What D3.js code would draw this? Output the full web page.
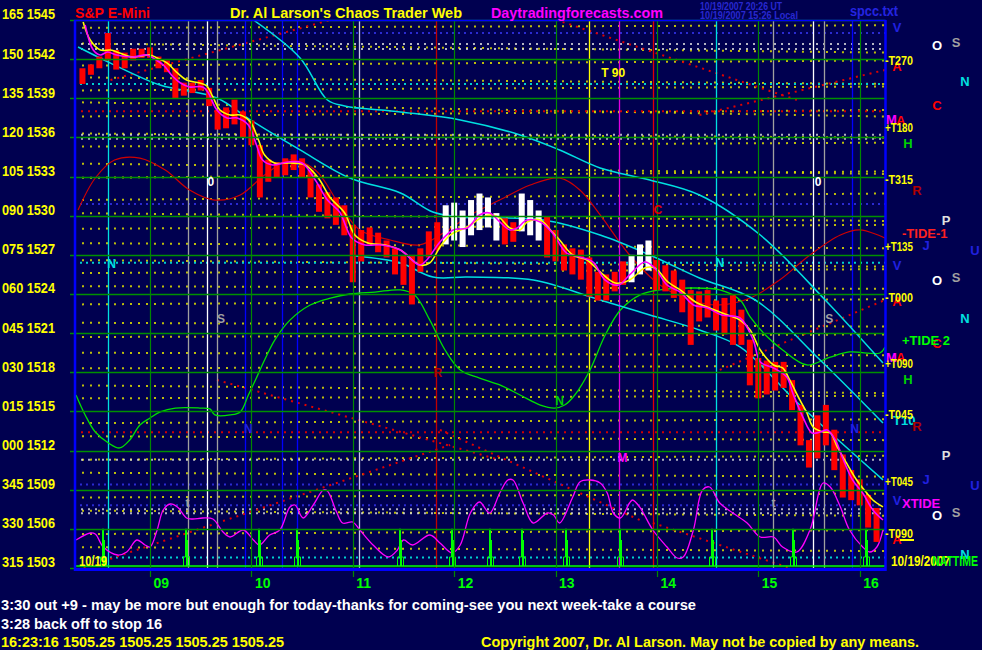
<!DOCTYPE html>
<html><head><meta charset="utf-8">
<script src="https://cdn.jsdelivr.net/npm/d3@7"></script>
<style>body{margin:0;background:#000050;}svg{display:block;}text{font-family:"Liberation Sans",Arial,sans-serif;font-weight:bold;}</style>
</head><body><svg id="c" width="982" height="650"></svg>
<script>
// ---------------- DATA ----------------
const priceTicks = [1503,1506,1509,1512,1515,1518,1521,1524,1527,1530,1533,1536,1539,1542,1545];
const degreeLabels = ["315","330","345","000","015","030","045","060","075","090","105","120","135","150","165"];
const hourTicks = [9,10,11,12,13,14,15,16];
const hourLabels = ["09","10","11","12","13","14","15","16"];

// 5-minute bars starting 8:20
const barStartHour = 8 + 20/60;
const barStepHour = 5/60;
const barHigh = [1541.3,1541.6,1542.2,1544.0,1542.7,1542.5,1542.8,1542.8,1542.9,1542.2,1541.9,1541.3,1540.2,1540.2,1540.4,1539.8,1538.1,1538.3,1538.9,1538.0,
 1537.3,1535.4,1534.3,1534.1,1534.4,1534.7,1534.4,1533.5,1532.4,1531.8,1531.4,1530.8,1529.3,1528.9,1529.1,1528.7,1528.1,1527.5,1527.0,1527.0,
 1527.5,1528.8,1529.5,1530.8,1531.0,1530.4,1531.2,1531.7,1531.4,1530.2,1529.8,1529.5,1531.7,1531.2,1530.4,1529.9,1528.9,1527.8,1527.5,1527.4,
 1526.8,1525.7,1525.5,1525.7,1526.5,1527.0,1527.8,1528.1,1526.6,1526.2,1525.8,1525.1,1524.3,1524.2,1524.3,1523.5,1523.7,1523.9,1522.8,1520.5,
 1519.1,1518.9,1518.8,1518.8,1517.4,1515.5,1512.8,1514.7,1515.5,1513.6,1511.7,1510.5,1509.8,1508.6,1507.6];
const barLow = [1540.1,1540.8,1541.3,1541.9,1541.2,1541.3,1541.9,1542.1,1542.1,1541.3,1541.0,1539.0,1539.2,1539.4,1539.6,1538.4,1536.6,1536.7,1537.0,1536.0,
 1535.4,1531.4,1532.6,1532.9,1533.1,1533.5,1532.9,1531.4,1530.3,1529.8,1529.3,1528.5,1524.9,1526.5,1527.8,1527.2,1526.8,1525.5,1524.7,1523.2,
 1525.7,1526.8,1527.4,1527.8,1528.1,1527.6,1528.5,1528.9,1529.1,1528.1,1527.8,1528.0,1528.8,1528.5,1528.1,1526.8,1526.5,1525.8,1525.5,1525.1,
 1523.8,1523.5,1523.5,1524.2,1524.7,1524.9,1525.5,1525.8,1524.3,1524.2,1523.7,1522.6,1520.1,1521.9,1522.2,1521.2,1520.9,1520.1,1520.1,1517.0,
 1516.0,1516.3,1516.6,1516.8,1515.1,1512.4,1510.7,1511.4,1512.4,1510.5,1508.4,1508.2,1507.8,1506.1,1505.0];
const whiteBarIdx = [43,44,45,46,47,48,49,52,53,54,65,66,67];

const yellowMA = [[8.34,1544.85],[8.41,1543.47],[8.51,1542.70],[8.61,1542.70],[8.70,1542.47],[8.83,1542.16],[9.00,1542.32],[9.07,1542.09],[9.17,1541.70],[9.27,1540.94],[9.36,1540.40],[9.49,1540.17],[9.56,1539.94],[9.62,1539.10],[9.69,1538.10],[9.79,1537.72],[9.89,1537.72],[9.99,1537.18],[10.07,1535.80],[10.13,1534.65],[10.23,1534.04],[10.38,1534.04],[10.53,1533.89],[10.66,1532.89],[10.78,1531.36],[10.92,1530.21],[11.02,1528.52],[11.15,1527.91],[11.32,1527.76],[11.47,1527.37],[11.66,1526.22],[11.76,1526.38],[11.86,1527.60],[11.96,1528.52],[12.13,1529.14],[12.28,1529.90],[12.38,1530.06],[12.45,1529.83],[12.55,1529.06],[12.65,1528.91],[12.72,1529.52],[12.85,1529.67],[12.95,1528.91],[13.04,1528.14],[13.17,1526.99],[13.31,1526.61],[13.44,1525.69],[13.59,1524.84],[13.73,1525.07],[13.88,1525.99],[13.98,1525.99],[14.11,1524.92],[14.23,1524.31],[14.38,1523.39],[14.52,1522.93],[14.67,1522.47],[14.82,1522.00],[14.92,1521.24],[15.02,1519.71],[15.15,1518.56],[15.24,1518.33],[15.31,1517.41],[15.41,1515.88],[15.48,1514.88],[15.54,1513.81],[15.64,1513.42],[15.71,1513.35],[15.78,1512.27],[15.87,1511.05],[15.97,1509.75],[16.07,1508.75],[16.13,1508.21],[16.23,1507.68]];
const magentaMA = [[8.36,1544.62],[8.44,1542.70],[8.51,1542.32],[8.58,1542.55],[8.67,1542.32],[8.83,1542.16],[8.97,1542.32],[9.03,1542.09],[9.13,1541.55],[9.23,1540.63],[9.30,1540.17],[9.39,1539.87],[9.52,1539.87],[9.57,1539.48],[9.66,1538.10],[9.76,1537.49],[9.86,1537.49],[9.97,1536.95],[10.05,1535.42],[10.11,1534.27],[10.21,1533.89],[10.36,1534.12],[10.50,1534.04],[10.63,1532.74],[10.75,1531.20],[10.87,1530.28],[10.99,1528.29],[11.12,1527.76],[11.29,1527.76],[11.47,1527.37],[11.66,1526.22],[11.73,1526.61],[11.86,1527.99],[11.99,1528.91],[12.13,1529.06],[12.25,1530.06],[12.35,1530.21],[12.45,1529.52],[12.55,1528.91],[12.62,1529.06],[12.72,1529.67],[12.85,1529.52],[12.97,1528.68],[13.11,1527.14],[13.24,1526.84],[13.37,1526.45],[13.49,1525.07],[13.62,1524.69],[13.73,1525.46],[13.88,1526.45],[13.98,1525.99],[14.10,1524.69],[14.23,1524.15],[14.36,1523.16],[14.50,1522.93],[14.64,1522.39],[14.82,1522.16],[14.95,1520.47],[15.02,1518.79],[15.15,1518.33],[15.28,1517.64],[15.34,1516.41],[15.44,1514.57],[15.53,1513.35],[15.61,1513.42],[15.68,1513.58],[15.76,1512.81],[15.84,1511.28],[15.93,1509.75],[16.03,1508.75],[16.13,1507.45],[16.23,1506.68]];

const cyanUpper = [[10.02,1545.0],[10.48,1542.09],[10.75,1538.87],[10.92,1538.41],[11.47,1537.95],[12.06,1537.34],[12.65,1536.19],[13.04,1535.04],[13.44,1533.66],[13.93,1532.74],[14.42,1531.59],[15.02,1528.52],[15.66,1523.54],[16.23,1518.71]];
const cyanMid = [[8.29,1542.93],[8.61,1541.70],[9.10,1540.02],[9.66,1539.02],[9.99,1537.34],[10.48,1535.04],[10.97,1532.89],[11.47,1531.74],[11.79,1530.28],[12.06,1529.90],[12.88,1529.67],[13.44,1528.52],[13.93,1526.99],[14.42,1525.23],[14.97,1523.54],[15.61,1518.94],[16.23,1514.11]];
const cyanLower = [[11.02,1526.91],[11.47,1526.38],[11.79,1525.30],[12.13,1525.30],[12.78,1525.07],[13.44,1523.54],[13.93,1522.39],[14.42,1521.24],[14.82,1519.94],[15.41,1515.49],[16.23,1509.75]];
const redCurve = [[8.29,1530.44],[8.46,1532.89],[8.65,1534.27],[8.90,1534.42],[9.15,1533.50],[9.39,1531.97],[9.64,1531.20],[9.89,1531.59],[10.13,1533.12],[10.38,1534.27],[10.63,1533.50],[10.87,1530.82],[11.07,1528.91],[11.37,1528.14],[11.66,1527.76],[11.91,1528.75],[12.16,1530.06],[12.45,1531.20],[12.75,1532.35],[13.04,1532.89],[13.24,1531.97],[13.44,1530.06],[13.73,1526.99],[14.03,1524.69],[14.33,1523.54],[14.62,1523.16],[14.92,1523.69],[15.21,1525.07],[15.51,1526.99],[15.81,1528.52],[16.00,1528.91],[16.25,1528.29]];
const greenCurve = [[8.27,1516.26],[8.36,1514.73],[8.46,1513.42],[8.59,1512.58],[8.70,1512.20],[8.80,1512.81],[8.90,1513.96],[9.00,1514.50],[9.10,1514.96],[9.25,1515.26],[9.49,1515.26],[9.59,1515.19],[9.64,1514.73],[9.79,1514.73],[9.89,1514.96],[9.97,1516.26],[10.04,1517.41],[10.13,1518.94],[10.23,1520.47],[10.38,1522.00],[10.58,1523.16],[10.78,1523.69],[10.97,1524.00],[11.22,1524.15],[11.47,1524.31],[11.61,1523.92],[11.76,1522.00],[11.91,1519.71],[12.06,1518.18],[12.25,1517.56],[12.45,1517.03],[12.65,1516.26],[12.85,1515.49],[12.99,1515.26],[13.09,1515.49],[13.19,1516.26],[13.34,1518.18],[13.49,1520.86],[13.64,1522.77],[13.83,1523.92],[14.03,1524.31],[14.33,1524.46],[14.62,1524.31],[14.82,1523.54],[14.92,1522.24],[15.07,1520.86],[15.24,1519.71],[15.48,1518.56],[15.71,1519.17],[15.90,1519.56],[16.20,1519.48],[16.25,1519.94]];

// oscillator (arbitrary units 0..90)
const oscillator = [[8.27,28],[8.41,35],[8.46,34],[8.54,21],[8.68,13],[8.77,16],[8.87,28],[8.95,23],[9.00,21],[9.07,38],[9.13,58],[9.20,64],[9.27,61],[9.36,50],[9.42,49],[9.52,50],[9.62,49],[9.72,36],[9.79,31],[9.92,38],[10.02,28],[10.08,23],[10.18,33],[10.28,38],[10.38,61],[10.43,63],[10.51,50],[10.61,63],[10.71,78],[10.75,77],[10.84,56],[10.90,45],[11.00,46],[11.07,38],[11.20,23],[11.35,11],[11.44,18],[11.50,28],[11.59,23],[11.76,33],[11.86,25],[11.98,15],[12.06,23],[12.16,55],[12.25,66],[12.35,55],[12.45,75],[12.53,88],[12.58,88],[12.68,65],[12.78,45],[12.92,55],[12.98,53],[13.04,45],[13.17,71],[13.24,86],[13.34,88],[13.44,85],[13.51,75],[13.57,55],[13.64,50],[13.73,65],[13.76,68],[13.83,61],[13.96,38],[14.10,21],[14.20,10],[14.26,11],[14.36,38],[14.45,78],[14.52,81],[14.62,65],[14.75,55],[14.89,45],[15.02,31],[15.15,31],[15.24,21],[15.38,16],[15.51,38],[15.64,85],[15.71,81],[15.81,61],[15.90,38],[16.03,21],[16.10,16],[16.17,21],[16.23,38]];
const spikeTimes = [8.54,9.35,10.07,10.45,11.47,11.98,12.35,12.67,13.10,13.64,14.54,15.34,16.06];

// vertical event lines
const eventTimes = [8.585,9.374,9.562,9.661,9.937,10.302,10.450,11.061,11.821,13.330,13.626,13.961,14.583,15.145,15.540,15.648,15.924];
const eventColors = ["#00e0e0","#a0a0a0","#ffffff","#a0a0a0","#0000ff","#0000ff","#0000ff","#c8c8e8","#c00000","#ffff00","#e000e0","#e00000","#00e0e0","#a0a0a0","#ffffff","#a0a0a0","#0000ff"];

// dotted flux lines [price at left, price at right]
const fluxYellow = [[1544.4,1544.6],[1543.2,1542.5],[1541.5,1541.9],[1540.6,1540.1],[1539.6,1539.9],[1538.7,1537.6],[1537.6,1538.1],[1536.3,1536.0],[1535.3,1535.6],[1534.0,1533.2],[1532.9,1533.4],[1531.2,1531.7],[1530.2,1529.6],[1529.0,1529.3],[1527.9,1527.5],[1526.6,1526.1],[1525.6,1525.9],[1524.6,1524.4],[1523.2,1523.6],[1521.8,1521.5],[1520.7,1520.9],[1519.5,1519.3],[1518.3,1518.5],[1517.0,1516.4],[1516.0,1516.2],[1514.1,1514.4],[1513.1,1512.8],[1511.3,1511.6],[1510.3,1510.0],[1508.4,1508.7],[1507.4,1507.0],[1505.6,1505.9],[1504.6,1504.3]];
const fluxWhite = [1543.16,1542.78,1536.2,1535.9,1511.3,1507.5,1507.2];
const fluxBlue = [1544.0,1509.4,1507.8,1530.9];
const fluxCyan = [1540.1,1526.4,1503.8];
const fluxRedFlat = [1538.0,1513.4];
const fluxRedDiag = [[8.61,1540.40,10.78,1545.0],[9.66,1517.41,12.45,1511.28],[8.28,1502.85,11.96,1512.43],[11.86,1513.58,13.83,1506.68],[13.96,1506.45,15.31,1503.0],[13.07,1544.85,15.38,1538.87],[14.42,1537.72,16.25,1541.17],[14.62,1518.18,16.25,1523.54]];

// annotations
const rightTags = [["-T270",1541.9],["+T180",1536.8],["-T315",1532.8],["+T135",1527.7],["-T000",1523.8],["+T090",1518.7],["-T045",1514.8],["+T045",1509.7],["-T090",1505.7]];
const rightWords = [["-TIDE-1",1528.68,"#ff2020"],["+TIDE 2",1520.47,"#00ff00"],["XTIDE",1507.98,"#ff00ff"]];
// letter, price, column(0..8), color
const rightLetters = [["V",1544.39,0,"#2020e0"],["O",1543.08,4,"#ffffff"],["S",1543.31,6,"#a0a0a0"],["A",1541.47,0,"#ff0000"],["N",1540.25,7,"#00e0e0"],["C",1538.41,4,"#ff0000"],
 ["H",1535.57,1,"#00d000"],["R",1531.97,2,"#b00000"],["P",1529.67,5,"#e0e0e0"],["J",1527.68,3,"#2020e0"],["U",1527.37,8,"#2020e0"],["V",1526.22,0,"#2020e0"],["O",1525.07,4,"#ffffff"],["S",1525.30,6,"#a0a0a0"],
 ["A",1523.39,0,"#ff0000"],["N",1522.16,7,"#00e0e0"],["C",1520.24,4,"#ff0000"],["H",1517.41,1,"#00d000"],["T10",1514.34,0,"#00e0e0"],["R",1513.81,2,"#b00000"],["P",1511.66,5,"#e0e0e0"],
 ["J",1509.75,3,"#2020e0"],["U",1509.29,8,"#2020e0"],["V",1508.21,0,"#2020e0"],["O",1507.06,4,"#ffffff"],["S",1507.29,6,"#a0a0a0"],["A",1505.15,0,"#ff0000"],["N",1504.0,7,"#00e0e0"]];
const plotLetters = [["T 90",13.45,1541.0,"#ffff00"],["0",9.60,1532.66,"#ffffff"],["N",8.62,1526.3,"#00e0e0"],["S",9.70,1522.16,"#a0a0a0"],["C",14.01,1530.5,"#e00000"],["M",13.66,1511.5,"#ff00ff"],["N",13.04,1515.8,"#00d000"],["R",11.84,1518.0,"#b00000"],["0",15.59,1532.66,"#ffffff"],["N",14.62,1526.4,"#00e0e0"],["S",15.70,1522.16,"#a0a0a0"],["N",15.95,1513.7,"#2020e0"],["N",9.97,1513.7,"#2020e0"],["t",9.37,1508.0,"#a0a0a0"],["t",15.15,1508.0,"#a0a0a0"]];

// ---------------- DRAW ----------------
const W = 982, H = 650;
const x = d3.scaleLinear().domain([8.25,16.25]).range([74,885]);
const y = d3.scaleLinear().domain([1503,1545]).range([568,20]);
const yo = d3.scaleLinear().domain([0,90]).range([568,478]);
const svg = d3.select("#c");
svg.append("rect").attr("width",W).attr("height",H).attr("fill","#000050");
svg.append("defs").append("clipPath").attr("id","plot").append("rect").attr("x",74).attr("y",20).attr("width",811).attr("height",548);
const g = svg.append("g").attr("clip-path","url(#plot)");
const X0 = x.domain()[0], X1 = x.domain()[1];

function dotted(sel, data, color, y1, y2, dash, op){
  sel.append("g").selectAll("line").data(data).join("line")
    .attr("x1",x(X0)).attr("x2",x(X1)).attr("y1",y1).attr("y2",y2)
    .attr("stroke",color).attr("stroke-width",2).attr("stroke-dasharray",dash||"2,6").attr("opacity",op||1);
}
dotted(g, fluxYellow, "#e0e000", d=>y(d[0]), d=>y(d[1]), "2,6", 0.85);
dotted(g, fluxWhite, "#e0e0e0", d=>y(d), d=>y(d), "2,5", 0.8);
dotted(g, fluxBlue, "#2a2ad0", d=>y(d), d=>y(d), "2,4");
dotted(g, fluxCyan, "#00d0d0", d=>y(d), d=>y(d), "2,4");
dotted(g, fluxRedFlat, "#d00000", d=>y(d), d=>y(d), "2,5");
g.append("g").selectAll("line").data(fluxRedDiag).join("line")
  .attr("x1",d=>x(d[0])).attr("y1",d=>y(d[1])).attr("x2",d=>x(d[2])).attr("y2",d=>y(d[3]))
  .attr("stroke","#e00000").attr("stroke-width",2).attr("stroke-dasharray","2,5");

// grid
svg.append("g").selectAll("line").data(priceTicks).join("line")
  .attr("x1",70).attr("x2",885).attr("y1",d=>Math.round(y(d))+0.5).attr("y2",d=>Math.round(y(d))+0.5)
  .attr("stroke","#009000").attr("stroke-width",1.5);
svg.append("g").selectAll("line").data(hourTicks).join("line")
  .attr("x1",d=>Math.round(x(d))+0.5).attr("x2",d=>Math.round(x(d))+0.5).attr("y1",20).attr("y2",577)
  .attr("stroke","#008800").attr("stroke-width",1.2);
g.append("g").selectAll("line").data(eventTimes).join("line")
  .attr("x1",d=>Math.round(x(d))+0.5).attr("x2",d=>Math.round(x(d))+0.5).attr("y1",20).attr("y2",568)
  .attr("stroke",(d,i)=>eventColors[i]).attr("stroke-width",1.3);

const line = d3.line().x(d=>x(d[0])).y(d=>y(d[1])).curve(d3.curveCatmullRom);
const lineO = d3.line().x(d=>x(d[0])).y(d=>yo(d[1])).curve(d3.curveCatmullRom);
function path(data, color, w, gen){ g.append("path").datum(data).attr("d",(gen||line)).attr("fill","none").attr("stroke",color).attr("stroke-width",w); }
path(redCurve,"#d00000",1.2);
path(greenCurve,"#00e000",1.3);
path(cyanUpper,"#00e0e0",1.5);
path(cyanMid,"#00e0e0",1.5);
path(cyanLower,"#00e0e0",1.5);
path(oscillator,"#ff00ff",1.3,lineO);

// spikes
g.append("line").attr("x1",76).attr("x2",885).attr("y1",566).attr("y2",566).attr("stroke","#00ff00").attr("stroke-width",1.5);
g.append("g").selectAll("path").data(spikeTimes).join("path")
  .attr("d",d=>{const c=Math.round(x(d))+0.5; return `M${c-3},566V557H${c-1}V529H${c}V566M${c+1},566V540V566M${c+1},557H${c+3}V566`;})
  .attr("fill","none").attr("stroke","#00ff00").attr("stroke-width",1);

// bars
const bars = barHigh.map((h,i)=>({t:barStartHour+i*barStepHour,h:h,l:barLow[i],w:whiteBarIdx.includes(i)}));
g.append("g").selectAll("rect").data(bars).join("rect")
  .attr("x",d=>x(d.t)-3).attr("width",6)
  .attr("y",d=>y(d.h)).attr("height",d=>y(d.l)-y(d.h))
  .attr("fill",d=>d.w?"#ffffff":"#ff0000");

path(yellowMA,"#ffff00",1.6);
path(magentaMA,"#ff00ff",1.6);

// axes
const yAxis = d3.axisLeft(y).tickValues(priceTicks).tickSize(0).tickPadding(3)
  .tickFormat((d,i)=>degreeLabels[i]+" "+d);
const ya = svg.append("g").attr("transform","translate(58,0)").call(yAxis);
ya.select(".domain").remove();
ya.selectAll("text").attr("fill","#ffff00").attr("font-size",14).attr("dy","-0.08em")
  .attr("font-family","Liberation Sans, Arial, sans-serif").attr("font-weight","bold")
  .attr("textLength",53).attr("lengthAdjust","spacingAndGlyphs");
const xAxis = d3.axisBottom(x).tickValues(hourTicks).tickSize(0).tickPadding(0).tickFormat((d,i)=>hourLabels[i]);
const xa = svg.append("g").attr("transform","translate(0,578)").call(xAxis);
xa.select(".domain").remove();
xa.selectAll("text").attr("fill","#00ff00").attr("font-size",14).attr("text-anchor","start").attr("dx",3).attr("dy","0.7em")
  .attr("font-family","Liberation Sans, Arial, sans-serif").attr("font-weight","bold");

// border
const B = svg.append("g").attr("stroke","#0000ff");
B.append("line").attr("x1",75).attr("x2",75).attr("y1",20).attr("y2",571).attr("stroke-width",2.5);
B.append("line").attr("x1",74).attr("x2",886).attr("y1",20.5).attr("y2",20.5).attr("stroke-width",1.5);
B.append("line").attr("x1",885.5).attr("x2",885.5).attr("y1",20).attr("y2",571).attr("stroke-width",2.5);
B.append("line").attr("x1",74).attr("x2",886).attr("y1",569.5).attr("y2",569.5).attr("stroke-width",3);

function txt(s, px, py, color, size, len, anchor){
  const t = svg.append("text").attr("x",px).attr("y",py).attr("fill",color).attr("font-size",size).text(s);
  if(len) t.attr("textLength",len).attr("lengthAdjust","spacingAndGlyphs");
  if(anchor) t.attr("text-anchor",anchor);
  return t;
}
// titles
txt("S&P E-Mini",75,18,"#ff0000",15,75);
txt("Dr. Al Larson's Chaos Trader Web",230,18,"#ffff00",15,232);
txt("Daytradingforecasts.com",491,18,"#ff00ff",15,172);
txt("10/19/2007 20:26 UT",700,10,"#2828d0",10,82).attr("font-weight","normal");
txt("10/19/2007 15:26 Local",700,19,"#2828d0",10,98).attr("font-weight","normal");
txt("spcc.txt",850,16,"#2424e0",14,48);
// bottom texts
txt("3:30 out +9 - may be more but enough for today-thanks for coming-see you next week-take a course",1,610,"#ffffff",14,695);
txt("3:28 back off to stop 16",1,629,"#ffffff",14,161);
txt("16:23:16  1505.25 1505.25 1505.25 1505.25",1,647,"#ffff00",14,283);
txt("Copyright 2007, Dr. Al Larson. May not be copied by any means.",481,647,"#ffff00",14,438);

// right side letters
const colX = [897,908,917,926,937,946,956,965,975];
rightLetters.forEach(d=>{ txt(d[0], colX[d[2]], y(d[1])+4.5, d[3], 13, null, d[0].length>1?"start":"middle").attr("x", d[0].length>1? colX[d[2]]-4 : colX[d[2]]); });
svg.append("text").attr("x",886).attr("y",y(1537.34)+4.5).attr("fill","#ff00ff").attr("font-size",13).text("M");
svg.append("text").attr("x",896).attr("y",y(1537.26)+4.5).attr("fill","#ff0000").attr("font-size",13).text("A");
svg.append("text").attr("x",886).attr("y",y(1519.17)+4.5).attr("fill","#ff00ff").attr("font-size",13).text("M");
svg.append("text").attr("x",896).attr("y",y(1519.10)+4.5).attr("fill","#ff0000").attr("font-size",13).text("A");
rightWords.forEach(d=>txt(d[0],902,y(d[1])+5,d[2],13));
rightTags.forEach(d=>txt(d[0],885,y(d[1])+5,"#ffff00",13,d[0].length*5.6));
svg.append("line").attr("x1",900).attr("x2",914).attr("y1",540).attr("y2",540).attr("stroke","#ffff00").attr("stroke-width",2);
txt("10/19/2007",891,566,"#ffff00",15,59);
txt("NATTIME",932,566,"#00ff00",14,46);
txt("10/19",79,566,"#ffff00",15,28);
plotLetters.forEach(d=>txt(d[0],x(d[1]),y(d[2])+4.5,d[3],12,null,d[0].length>1?"start":"middle"));
</script></body></html>
